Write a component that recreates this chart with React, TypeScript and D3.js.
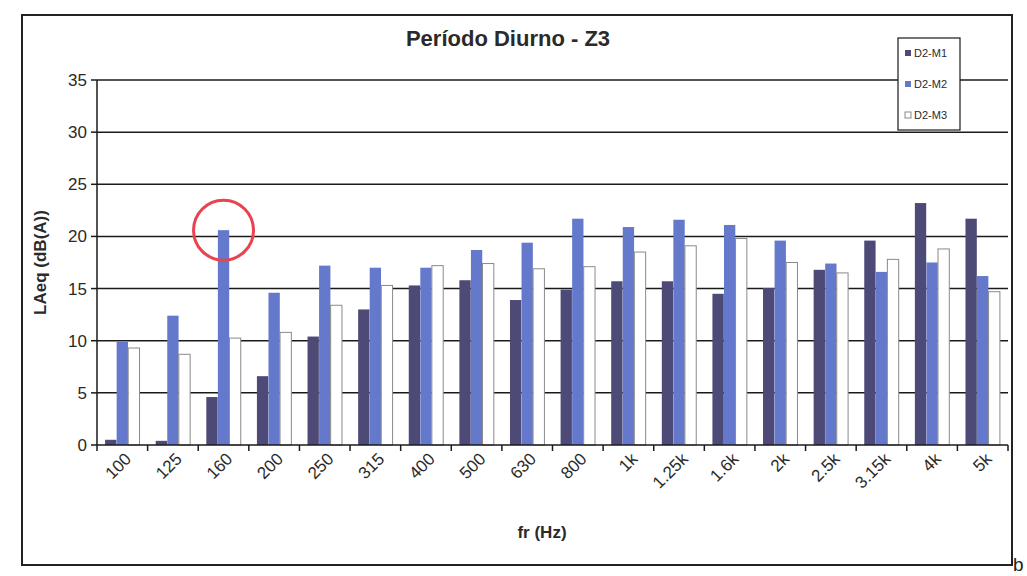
import React from "react";
import * as d3 from "d3";

const categories = ["100", "125", "160", "200", "250", "315", "400", "500", "630", "800", "1k", "1.25k", "1.6k", "2k", "2.5k", "3.15k", "4k", "5k"];
const seriesNames = ["D2-M1", "D2-M2", "D2-M3"];
const m1 = [0.5, 0.4, 4.6, 6.6, 10.4, 13.0, 15.3, 15.8, 13.9, 14.9, 15.7, 15.7, 14.5, 15.05, 16.8, 19.6, 23.2, 21.7];
const m2 = [9.9, 12.4, 20.6, 14.6, 17.2, 17.0, 17.0, 18.7, 19.4, 21.7, 20.9, 21.6, 21.1, 19.6, 17.4, 16.6, 17.5, 16.2];
const m3 = [9.3, 8.7, 10.25, 10.8, 13.4, 15.3, 17.2, 17.4, 16.9, 17.1, 18.5, 19.1, 19.8, 17.5, 16.5, 17.8, 18.8, 14.7];
const yTicks = [0, 5, 10, 15, 20, 25, 30, 35];
const highlightIndex = 2; // 160 Hz, D2-M2 circled

const fills = ["#4d4a78", "#6478cc", "#ffffff"];
const strokes = ["none", "none", "#8a8a8a"];

export default function App() {
  const W = 1027, H = 576;
  const left = 97, right = 1008, top = 80, bottom = 445;
  const x = d3.scaleBand<string>().domain(categories).range([left, right]).paddingInner(0).paddingOuter(0);
  const inner = d3.scaleBand<string>().domain(seriesNames).range([0, x.bandwidth()]).paddingInner(0.02).paddingOuter(0.7);
  const y = d3.scaleLinear().domain([0, 35]).range([bottom, top]);
  const series = [m1, m2, m3];
  const font = "Arial, 'Liberation Sans', sans-serif";

  const hx = (x(categories[highlightIndex]) ?? 0) + (inner(seriesNames[1]) ?? 0) + inner.bandwidth() / 2;
  const hy = y(m2[highlightIndex]);

  return (
    <svg width={W} height={H} style={{ position: "absolute", left: 0, top: 0 }} fontFamily={font}>
      <rect x={0} y={0} width={W} height={H} fill="#fff" />
      <rect x={22} y={15} width={990} height={550} fill="none" stroke="#222" strokeWidth={2} />
      <text x={1013} y={571} fontSize={19} fill="#222">b</text>

      <text x={508} y={46} textAnchor="middle" fontSize={22} fontWeight="bold" fill="#2a2a2a">Período Diurno - Z3</text>

      {/* gridlines */}
      {yTicks.filter(t => t > 0).map(t => (
        <line key={t} x1={left} x2={right} y1={y(t)} y2={y(t)} stroke="#1a1a1a" strokeWidth={1.5} />
      ))}

      {/* bars */}
      {series.map((vals, si) =>
        vals.map((v, ci) => (
          <rect key={`${si}-${ci}`}
            x={(x(categories[ci]) ?? 0) + (inner(seriesNames[si]) ?? 0)}
            y={y(v)}
            width={inner.bandwidth()}
            height={y(0) - y(v)}
            fill={fills[si]}
            stroke={strokes[si]}
            strokeWidth={1}
          />
        ))
      )}

      {/* axes */}
      <line x1={left} x2={left} y1={top} y2={bottom} stroke="#1a1a1a" strokeWidth={1.5} />
      <line x1={left} x2={right} y1={bottom} y2={bottom} stroke="#1a1a1a" strokeWidth={1.5} />
      {yTicks.map(t => (
        <g key={t}>
          <line x1={left - 6} x2={left} y1={y(t)} y2={y(t)} stroke="#1a1a1a" strokeWidth={1.5} />
          <text x={left - 10} y={y(t) + 6} textAnchor="end" fontSize={17} fill="#2a2a2a">{t}</text>
        </g>
      ))}
      {categories.map((c, i) => (
        <line key={`t${i}`} x1={x(c) ?? 0} x2={x(c) ?? 0} y1={bottom} y2={bottom + 6} stroke="#1a1a1a" strokeWidth={1.5} />
      ))}
      <line x1={right} x2={right} y1={bottom} y2={bottom + 6} stroke="#1a1a1a" strokeWidth={1.5} />
      {categories.map((c, i) => {
        const cx = (x(c) ?? 0) + x.bandwidth() / 2 + 10;
        const cy = bottom + 15;
        return (
          <text key={`l${i}`} x={cx} y={cy} transform={`rotate(-45 ${cx} ${cy})`} textAnchor="end" fontSize={17} fill="#2a2a2a">{c}</text>
        );
      })}

      <text x={542} y={538} textAnchor="middle" fontSize={17} fontWeight="bold" fill="#2a2a2a">fr (Hz)</text>
      <text transform={`translate(46 ${(top + bottom) / 2}) rotate(-90)`} textAnchor="middle" fontSize={17} fontWeight="bold" fill="#2a2a2a">LAeq (dB(A))</text>

      {/* highlight circle */}
      <circle cx={hx} cy={hy} r={30} fill="none" stroke="#e8434e" strokeWidth={3} />

      {/* legend */}
      <rect x={898} y={38} width={62} height={92} fill="#fff" stroke="#1a1a1a" strokeWidth={1.2} />
      {seriesNames.map((n, i) => (
        <g key={n}>
          <rect x={905} y={50 + i * 31} width={6} height={6} fill={fills[i]} stroke={i === 2 ? "#8a8a8a" : "none"} strokeWidth={1} />
          <text x={914} y={57 + i * 31} fontSize={11} fill="#2a2a2a">{n}</text>
        </g>
      ))}
    </svg>
  );
}
